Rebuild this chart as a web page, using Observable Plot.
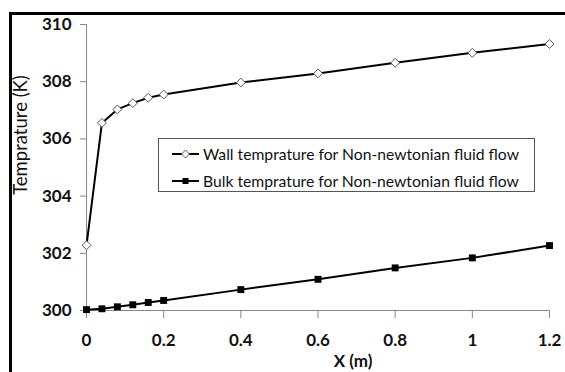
<!DOCTYPE html>
<html>
<head>
<meta charset="utf-8">
<script src="https://cdn.jsdelivr.net/npm/d3@7"></script>
<script src="https://cdn.jsdelivr.net/npm/@observablehq/plot@0.6"></script>
<style>
  html, body { margin: 0; padding: 0; background: #fff; }
  #wrap { position: relative; width: 565px; height: 372px; overflow: hidden; font-family: Lato, "Open Sans", sans-serif; }
  #border { position: absolute; left: 9px; top: 12px; width: 600px; height: 400px; border-left: 3px solid #000; border-top: 3px solid #000; }
  #ylabel { position: absolute; left: 19.5px; top: 135px; transform: translate(-50%, -50%) rotate(-90deg); font-size: 18.5px; color: #111; white-space: nowrap; line-height: 1; }
  #legend { position: absolute; left: 158px; top: 138px; width: 377px; height: 54px; border: 1px solid #555; background: #fff; box-sizing: border-box; }
  .row { position: absolute; left: 0; height: 20px; display: flex; align-items: center; font-size: 15.7px; color: #111; white-space: nowrap; }
  .row svg { margin-left: 13px; margin-right: 4px; }
</style>
</head>
<body>
<div id="wrap">
  <div id="chart"></div>
  <div id="border"></div>
  <div id="ylabel"></div>
  <div id="legend"></div>
</div>
<script>
// Distance along the channel (m)
const xPositions = [0, 0.04, 0.08, 0.12, 0.16, 0.2, 0.4, 0.6, 0.8, 1.0, 1.2];
// Wall temperature (K)
const wallTemp = [302.28, 306.56, 307.03, 307.25, 307.44, 307.55, 307.97, 308.29, 308.66, 309.01, 309.32];
// Bulk temperature (K)
const bulkTemp = [300.03, 300.06, 300.13, 300.2, 300.28, 300.35, 300.73, 301.09, 301.49, 301.84, 302.27];

const seriesNames = [
  "Wall temprature for Non-newtonian fluid flow",
  "Bulk temprature for Non-newtonian fluid flow"
];
const xTicks = [0, 0.2, 0.4, 0.6, 0.8, 1, 1.2];
const yTicks = [300, 302, 304, 306, 308, 310];
const yLabel = "Temprature (K)";
const xLabel = "X (m)";

const wall = xPositions.map((x, i) => ({x, t: wallTemp[i]}));
const bulk = xPositions.map((x, i) => ({x, t: bulkTemp[i]}));

const chart = Plot.plot({
  width: 565,
  height: 372,
  marginLeft: 86,
  marginRight: 16,
  marginTop: 24,
  marginBottom: 62,
  style: {fontFamily: "Lato, 'Open Sans', sans-serif", color: "#111", background: "transparent"},
  x: {domain: [0, 1.2]},
  y: {domain: [300, 310]},
  marks: [
    Plot.ruleX([0], {stroke: "#888", strokeWidth: 1}),
    Plot.ruleY([300], {stroke: "#888", strokeWidth: 1}),
    Plot.axisY({ticks: yTicks, tickSize: 6, tickPadding: 9, stroke: "#888", fontSize: 17, fontWeight: "bold", label: null, tickFormat: d => d}),
    Plot.axisX({ticks: xTicks, tickSize: 8, tickPadding: 15, stroke: "#888", fontSize: 17, fontWeight: "bold", label: null, tickFormat: d => String(d)}),
    Plot.line(wall, {x: "x", y: "t", stroke: "#000", strokeWidth: 2}),
    Plot.dot(wall, {x: "x", y: "t", symbol: "diamond2", r: 4, fill: "#fff", stroke: "#555", strokeWidth: 1}),
    Plot.line(bulk, {x: "x", y: "t", stroke: "#000", strokeWidth: 2}),
    Plot.dot(bulk, {x: "x", y: "t", symbol: "square", r: 3.9, fill: "#000", stroke: "none"}),
    Plot.text([xLabel], {frameAnchor: "bottom", dx: 35, dy: 56, fontSize: 17, fontWeight: "bold", fill: "#111"})
  ]
});
document.getElementById("chart").appendChild(chart);

// Rotated y-axis title
document.getElementById("ylabel").textContent = yLabel;

// Legend: line sample with marker, then series name
const legend = document.getElementById("legend");
const symbols = ["diamond", "square"];
seriesNames.forEach((name, i) => {
  const row = document.createElement("div");
  row.className = "row";
  row.style.top = (i === 0 ? 5 : 32) + "px";
  const mk = symbols[i] === "diamond"
    ? '<path d="M13.5,4 L17.5,8 L13.5,12 L9.5,8 Z" fill="#fff" stroke="#555" stroke-width="1"/>'
    : '<rect x="10.5" y="5" width="6" height="6" fill="#000"/>';
  row.innerHTML = '<svg width="27" height="16"><line x1="0" y1="8" x2="27" y2="8" stroke="#000" stroke-width="2"/>' + mk + '</svg><span>' + name + '</span>';
  legend.appendChild(row);
});
</script>
</body>
</html>
